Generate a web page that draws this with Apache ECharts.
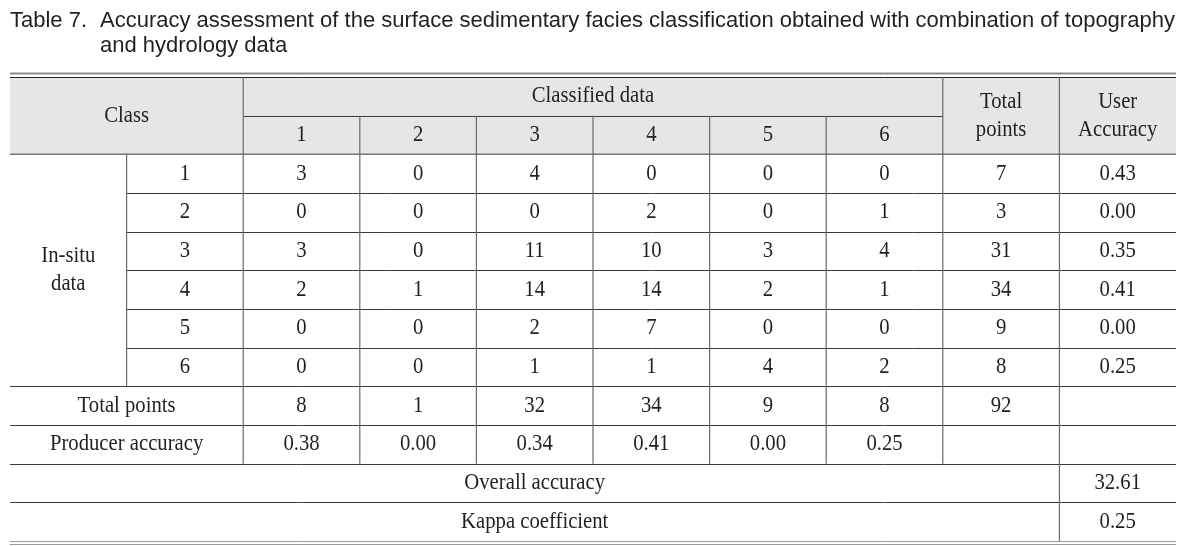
<!DOCTYPE html>
<html><head><meta charset="utf-8">
<script src="https://cdn.jsdelivr.net/npm/echarts@6/dist/echarts.min.js"></script>
<style>html,body{margin:0;padding:0;background:#fff}#c{width:1195px;height:546px}</style>
</head><body><div id="c"></div>
<script>
// ---- data ----
const titleLabel = 'Table 7.';
const titleLine1 = 'Accuracy assessment of the surface sedimentary facies classification obtained with combination of topography';
const titleLine2 = 'and hydrology data';
const classes = ['1', '2', '3', '4', '5', '6'];
const matrix = [
  [3, 0, 4, 0, 0, 0],
  [0, 0, 0, 2, 0, 1],
  [3, 0, 11, 10, 3, 4],
  [2, 1, 14, 14, 2, 1],
  [0, 0, 2, 7, 0, 0],
  [0, 0, 1, 1, 4, 2]
];
const rowTotals = [7, 3, 31, 34, 9, 8];
const userAccuracy = ['0.43', '0.00', '0.35', '0.41', '0.00', '0.25'];
const colTotals = [8, 1, 32, 34, 9, 8];
const grandTotal = 92;
const producerAccuracy = ['0.38', '0.00', '0.34', '0.41', '0.00', '0.25'];
const overallAccuracy = '32.61';
const kappaCoefficient = '0.25';
const headClass = 'Class';
const headClassified = 'Classified data';
const headTotal = 'Total\npoints';
const headUser = 'User\nAccuracy';
const headInsitu = 'In-situ\ndata';
const labelTotalRow = 'Total points';
const labelProducer = 'Producer accuracy';
const labelOverall = 'Overall accuracy';
const labelKappa = 'Kappa coefficient';

// ---- build table cells (column/row units) ----
const HEAD_BG = '#e6e6e6';
const cells = [];
cells.push([0, 10, 0, 2, '', HEAD_BG]);
cells.push([0, 2, 0, 2, headClass]);
cells.push([2, 8, 0, 1, headClassified]);
classes.forEach((c, i) => cells.push([2 + i, 3 + i, 1, 2, c]));
cells.push([8, 9, 0, 2, headTotal]);
cells.push([9, 10, 0, 2, headUser]);
cells.push([0, 1, 2, 8, headInsitu]);
classes.forEach((c, r) => {
  cells.push([1, 2, 2 + r, 3 + r, c]);
  matrix[r].forEach((v, j) => cells.push([2 + j, 3 + j, 2 + r, 3 + r, String(v)]));
  cells.push([8, 9, 2 + r, 3 + r, String(rowTotals[r])]);
  cells.push([9, 10, 2 + r, 3 + r, userAccuracy[r]]);
});
cells.push([0, 2, 8, 9, labelTotalRow]);
colTotals.forEach((v, j) => cells.push([2 + j, 3 + j, 8, 9, String(v)]));
cells.push([8, 9, 8, 9, String(grandTotal)]);
cells.push([0, 2, 9, 10, labelProducer]);
producerAccuracy.forEach((v, j) => cells.push([2 + j, 3 + j, 9, 10, v]));
cells.push([0, 9, 10, 11, labelOverall]);
cells.push([9, 10, 10, 11, overallAccuracy]);
cells.push([0, 9, 11, 12, labelKappa]);
cells.push([9, 10, 11, 12, kappaCoefficient]);

// ---- rules: [x0, y0, x1, y1, style] ----
const rules = [];
rules.push([0, 0, 10, 0, 'topOuter']);
rules.push([0, 0, 10, 0, 'topInner']);
rules.push([2, 1, 8, 1, 'h']);
rules.push([0, 2, 10, 2, 'hHead']);
for (let r = 3; r <= 7; r++) rules.push([1, r, 10, r, 'h']);
for (let r = 8; r <= 11; r++) rules.push([0, r, 10, r, 'h']);
rules.push([0, 12, 10, 12, 'botA']);
rules.push([0, 12, 10, 12, 'botB']);
rules.push([1, 2, 1, 8, 'v']);
rules.push([2, 0, 2, 10, 'v']);
for (let c = 3; c <= 7; c++) rules.push([c, 1, c, 10, 'v']);
rules.push([8, 0, 8, 10, 'v']);
rules.push([9, 0, 9, 12, 'v']);

const ruleStyles = {
  topOuter: { color: '#8a8a8a', width: 2, dy: -3.5 },
  topInner: { color: '#222', width: 1, dy: 0 },
  hHead: { color: '#777', width: 1.5, dy: 0 },
  h: { color: '#3a3a3a', width: 1, dy: 0 },
  v: { color: '#6a6a6a', width: 1.2, dy: 0 },
  botA: { color: '#9a9a9a', width: 1, dy: 0 },
  botB: { color: '#9a9a9a', width: 1, dy: 2.5 }
};
const ruleKeys = Object.keys(ruleStyles);

const TEXT_COLOR = '#231f20';
const SERIF = '23px "Liberation Serif", "Times New Roman", serif';
const SANS = '22px "Liberation Sans", Arial, sans-serif';

function crisp(v, w) { return w % 2 === 1 ? Math.round(v) + 0.5 : v; }

const chart = echarts.init(document.getElementById('c'), null, { renderer: 'canvas' });
chart.setOption({
  animation: false,
  backgroundColor: '#fff',
  grid: { left: 10, right: 19, top: 77, bottom: 5 },
  xAxis: { type: 'value', min: 0, max: 10, show: false },
  yAxis: { type: 'value', min: 0, max: 12, inverse: true, show: false },
  graphic: [
    { type: 'text', x: 10, y: 21, scaleX: 1.0, style: { text: titleLabel, font: SANS, fill: TEXT_COLOR, verticalAlign: 'middle' } },
    { type: 'text', x: 100, y: 21, scaleX: 1.0, style: { text: titleLine1, font: SANS, fill: TEXT_COLOR, verticalAlign: 'middle' } },
    { type: 'text', x: 100, y: 46, scaleX: 1.0, style: { text: titleLine2, font: SANS, fill: TEXT_COLOR, verticalAlign: 'middle' } }
  ],
  series: [
    {
      type: 'custom',
      clip: false,
      silent: true,
      encode: { x: [0, 1], y: [2, 3] },
      data: cells.map(c => [c[0], c[1], c[2], c[3]]),
      renderItem(params, api) {
        const c = cells[params.dataIndex];
        const a = api.coord([api.value(0), api.value(2)]);
        const b = api.coord([api.value(1), api.value(3)]);
        const children = [];
        if (c[5]) children.push({ type: 'rect', shape: { x: a[0], y: a[1], width: b[0] - a[0], height: b[1] - a[1] }, style: { fill: c[5] } });
        if (c[4] !== '') children.push({
          type: 'text', x: (a[0] + b[0]) / 2, y: (a[1] + b[1]) / 2, scaleX: 0.9,
          style: { text: c[4], font: SERIF, fill: TEXT_COLOR, align: 'center', verticalAlign: 'middle', lineHeight: 28 }
        });
        return { type: 'group', children };
      }
    },
    {
      type: 'custom',
      clip: false,
      silent: true,
      encode: { x: [0, 2], y: [1, 3] },
      data: rules.map(r => [r[0], r[1], r[2], r[3], ruleKeys.indexOf(r[4])]),
      renderItem(params, api) {
        const s = ruleStyles[ruleKeys[api.value(4)]];
        const p0 = api.coord([api.value(0), api.value(1)]);
        const p1 = api.coord([api.value(2), api.value(3)]);
        const horiz = p0[1] === p1[1];
        let x1 = p0[0], x2 = p1[0], y1 = p0[1] + s.dy, y2 = p1[1] + s.dy;
        if (horiz) { y1 = y2 = crisp(y1, s.width); } else { x1 = x2 = crisp(x1, s.width); }
        return { type: 'line', shape: { x1, y1, x2, y2 }, style: { stroke: s.color, lineWidth: s.width } };
      }
    }
  ]
});
</script>
</body></html>
